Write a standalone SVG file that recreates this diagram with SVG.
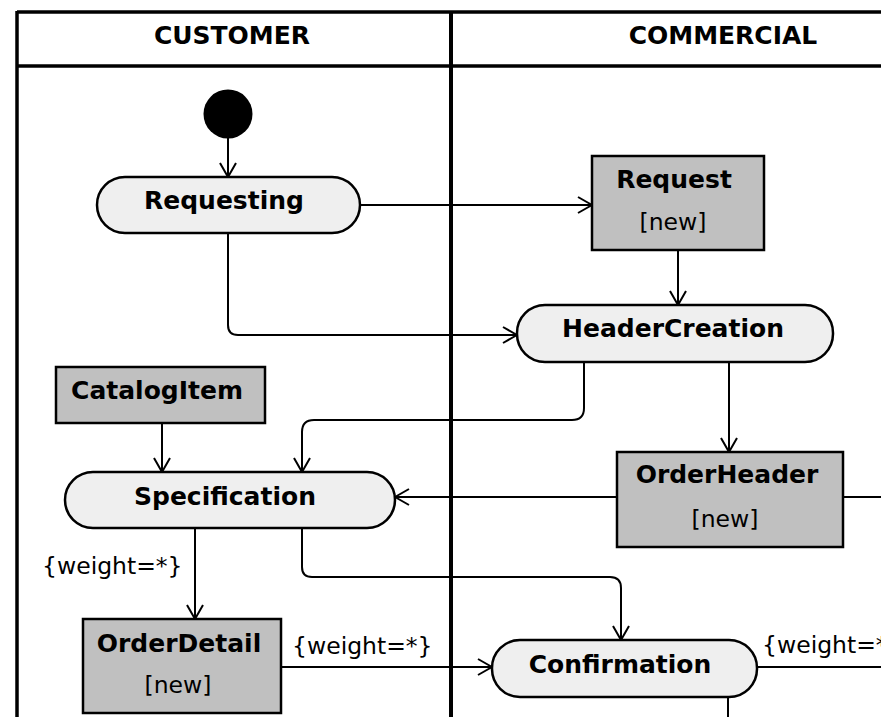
<svg xmlns="http://www.w3.org/2000/svg" width="881" height="717" viewBox="0 0 881 717">
  <style>
    .lane { stroke: #000; stroke-width: 3.5; fill: none; }
    .title { font-family: "DejaVu Sans", sans-serif; font-weight: bold; font-size: 25px; fill: #000; text-anchor: middle; }
    .action { fill: #efefef; stroke: #000; stroke-width: 2.5; }
    .object { fill: #c0c0c0; stroke: #000; stroke-width: 2.5; }
    .name { font-family: "DejaVu Sans", sans-serif; font-weight: bold; font-size: 25px; fill: #000; text-anchor: middle; }
    .state { font-family: "DejaVu Sans", sans-serif; font-size: 23.5px; fill: #000; text-anchor: middle; }
    .label { font-family: "DejaVu Sans", sans-serif; font-size: 23.5px; fill: #000; }
    .flow { fill: none; stroke: #000; stroke-width: 2; }
  </style>
  <defs>
    <marker id="open" viewBox="0 0 16 18" refX="15" refY="9" markerWidth="16" markerHeight="18" markerUnits="userSpaceOnUse" orient="auto">
      <path d="M1,1 L15,9 L1,17" fill="none" stroke="#000" stroke-width="2"/>
    </marker>
  </defs>

  <rect width="881" height="717" fill="#fff"/>

  <!-- swimlanes -->
  <g id="lanes">
    <line class="lane" x1="17" y1="12" x2="881" y2="12"/>
    <line class="lane" x1="17" y1="66" x2="881" y2="66"/>
    <line class="lane" x1="17" y1="11" x2="17" y2="717"/>
    <line class="lane" x1="451" y1="11" x2="451" y2="717" style="stroke-width:4"/>
    <text class="title" x="232" y="44">CUSTOMER</text>
    <text class="title" x="723" y="44">COMMERCIAL</text>
  </g>

  <!-- control and object flows -->
  <g id="connectors">
    <path class="flow" d="M228,138 V177" marker-end="url(#open)"/>
    <path class="flow" d="M360,205 H592" marker-end="url(#open)"/>
    <path class="flow" d="M678,250 V305" marker-end="url(#open)"/>
    <path class="flow" d="M228,233 V325 Q228,335 238,335 H517" marker-end="url(#open)"/>
    <path class="flow" d="M584,362 V408 Q584,420 572,420 H314 Q302,420 302,432 V472" marker-end="url(#open)"/>
    <path class="flow" d="M729,362 V452" marker-end="url(#open)"/>
    <path class="flow" d="M162,423 V472" marker-end="url(#open)"/>
    <path class="flow" d="M617,497 H395" marker-end="url(#open)"/>
    <path class="flow" d="M843,497 H881"/>
    <path class="flow" d="M195,528 V619" marker-end="url(#open)"/>
    <path class="flow" d="M302,528 V567 Q302,577 312,577 H610 Q621,577 621,588 V640" marker-end="url(#open)"/>
    <path class="flow" d="M281,667 H492" marker-end="url(#open)"/>
    <path class="flow" d="M757,667 H881"/>
    <path class="flow" d="M728,697 V717"/>
    <text class="label" x="42" y="574">{weight=*}</text>
    <text class="label" x="292" y="654">{weight=*}</text>
    <text class="label" x="762" y="653">{weight=*}</text>
  </g>

  <g id="start">
    <circle cx="228" cy="114" r="24.5" fill="#000"/>
  </g>

  <g id="requesting">
    <rect class="action" x="97" y="177" width="263" height="56" rx="28" ry="28"/>
    <text class="name" x="224" y="209">Requesting</text>
  </g>

  <g id="request">
    <rect class="object" x="592" y="156" width="172" height="94"/>
    <text class="name" x="674" y="188">Request</text>
    <text class="state" x="673" y="230">[new]</text>
  </g>

  <g id="headerCreation">
    <rect class="action" x="517" y="305" width="316" height="57" rx="28" ry="28"/>
    <text class="name" x="673" y="337">HeaderCreation</text>
  </g>

  <g id="catalogItem">
    <rect class="object" x="56" y="367" width="209" height="56"/>
    <text class="name" x="157" y="399">CatalogItem</text>
  </g>

  <g id="specification">
    <rect class="action" x="65" y="472" width="330" height="56" rx="28" ry="28"/>
    <text class="name" x="225" y="505">Specification</text>
  </g>

  <g id="orderHeader">
    <rect class="object" x="617" y="452" width="226" height="95"/>
    <text class="name" x="727" y="483">OrderHeader</text>
    <text class="state" x="725" y="527">[new]</text>
  </g>

  <g id="orderDetail">
    <rect class="object" x="83" y="619" width="198" height="94"/>
    <text class="name" x="179" y="652">OrderDetail</text>
    <text class="state" x="178" y="693">[new]</text>
  </g>

  <g id="confirmation">
    <rect class="action" x="492" y="640" width="265" height="57" rx="28" ry="28"/>
    <text class="name" x="620" y="673">Confirmation</text>
  </g>
</svg>
